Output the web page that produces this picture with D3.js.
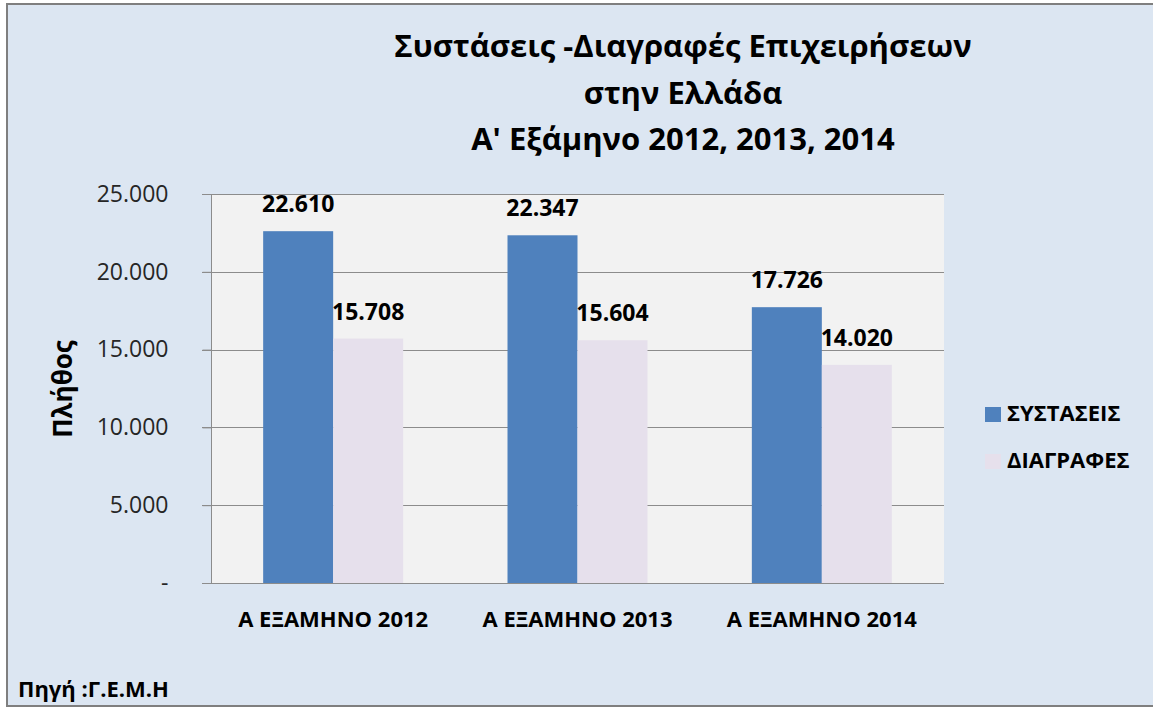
<!DOCTYPE html>
<html>
<head>
<meta charset="utf-8">
<script src="https://cdn.jsdelivr.net/npm/d3@7"></script>
<style>
  html, body { margin: 0; padding: 0; background: #ffffff; }
  svg { display: block; font-family: "Open Sans", "Noto Sans", sans-serif; }
</style>
</head>
<body>
<svg id="chart" width="1153" height="708"></svg>
<script>
const categories = ['Α ΕΞΑΜΗΝΟ 2012', 'Α ΕΞΑΜΗΝΟ 2013', 'Α ΕΞΑΜΗΝΟ 2014'];
const seriesNames = ['ΣΥΣΤΑΣΕΙΣ', 'ΔΙΑΓΡΑΦΕΣ'];
const systaseis = [22610, 22347, 17726];
const diagrafes = [15708, 15604, 14020];
const yTicks = [0, 5000, 10000, 15000, 20000, 25000];
const titleLines = ['Συστάσεις -Διαγραφές Επιχειρήσεων', 'στην Ελλάδα', "Α' Εξάμηνο 2012, 2013, 2014"];

const colors = ['#4f81bd', '#e6e0ec'];
const seriesValues = [systaseis, diagrafes];

const locale = d3.formatLocale({ decimal: ',', thousands: '.', grouping: [3], currency: ['', '€'] });
const fmt = locale.format(',d');
const tickFmt = d => d === 0 ? '-' : fmt(d);

const svg = d3.select('#chart');
const plot = { left: 211, right: 944, top: 194, bottom: 583 };

// background + frame (right edge runs off the picture)
svg.append('rect')
  .attr('x', 7).attr('y', 4).attr('width', 1160).attr('height', 702)
  .attr('fill', '#dce6f2')
  .attr('stroke', '#7f7f7f').attr('stroke-width', 2);

// title
svg.append('g').selectAll('text')
  .data(titleLines)
  .join('text')
  .attr('x', 683)
  .attr('y', (d, i) => 57 + i * 46.5)
  .attr('text-anchor', 'middle')
  .attr('font-size', 31)
  .attr('font-weight', 'bold')
  .attr('fill', '#000')
  .text(d => d);

const x0 = d3.scaleBand()
  .domain(categories)
  .range([plot.left, plot.right])
  .paddingInner(0.427)
  .paddingOuter(0.2135);

const x1 = d3.scaleBand()
  .domain(seriesNames)
  .range([0, x0.bandwidth()]);

const y = d3.scaleLinear()
  .domain([0, 25000])
  .range([plot.bottom, plot.top]);

// plot area
svg.append('rect')
  .attr('x', plot.left).attr('y', plot.top)
  .attr('width', plot.right - plot.left).attr('height', plot.bottom - plot.top)
  .attr('fill', '#f2f2f2');

// gridlines
svg.append('g').selectAll('line')
  .data(yTicks)
  .join('line')
  .attr('x1', plot.left - 9).attr('x2', plot.right)
  .attr('y1', d => Math.round(y(d)) + 0.5).attr('y2', d => Math.round(y(d)) + 0.5)
  .attr('stroke', '#8c8c8c').attr('stroke-width', 1);

// y axis
const yAxis = d3.axisLeft(y)
  .tickValues(yTicks)
  .tickFormat(tickFmt)
  .tickSize(9)
  .tickPadding(34);

const yg = svg.append('g')
  .attr('transform', `translate(${plot.left + 0.5},0)`)
  .call(yAxis);
yg.select('.domain').attr('stroke', '#8c8c8c').attr('d', `M0,${plot.top}V${plot.bottom}`);
yg.selectAll('.tick line').attr('stroke', '#8c8c8c');
yg.selectAll('.tick text')
  .attr('font-size', 23)
  .attr('font-family', '"Open Sans", "Noto Sans", sans-serif')
  .attr('fill', '#262626');

// y axis title
svg.append('text')
  .attr('transform', 'translate(72,389) rotate(-90)')
  .attr('text-anchor', 'middle')
  .attr('font-size', 26)
  .attr('font-weight', 'bold')
  .attr('fill', '#000')
  .text('Πλήθος');

// bars
const groups = svg.append('g').selectAll('g')
  .data(categories)
  .join('g')
  .attr('transform', d => `translate(${x0(d)},0)`);

groups.selectAll('rect')
  .data((c, i) => seriesNames.map((s, j) => ({ s, j, v: seriesValues[j][i] })))
  .join('rect')
  .attr('x', d => x1(d.s))
  .attr('y', d => y(d.v))
  .attr('width', x1.bandwidth())
  .attr('height', d => y(0) - y(d.v))
  .attr('fill', d => colors[d.j]);

groups.selectAll('text')
  .data((c, i) => seriesNames.map((s, j) => ({ s, j, v: seriesValues[j][i] })))
  .join('text')
  .attr('x', d => x1(d.s) + x1.bandwidth() / 2)
  .attr('y', d => y(d.v) - 19)
  .attr('text-anchor', 'middle')
  .attr('font-size', 23)
  .attr('font-weight', 'bold')
  .attr('fill', '#000')
  .text(d => fmt(d.v));

// x axis labels
svg.append('g').selectAll('text')
  .data(categories)
  .join('text')
  .attr('x', d => x0(d) + x0.bandwidth() / 2)
  .attr('y', 627)
  .attr('text-anchor', 'middle')
  .attr('font-size', 22)
  .attr('font-weight', 'bold')
  .attr('fill', '#000')
  .text(d => d);

// legend
const legend = svg.append('g').selectAll('g')
  .data(seriesNames)
  .join('g')
  .attr('transform', (d, i) => `translate(985,${407 + i * 47})`);
legend.append('rect')
  .attr('width', 16).attr('height', 15)
  .attr('fill', (d, i) => colors[i]);
legend.append('text')
  .attr('x', 22).attr('y', 14)
  .attr('font-size', 22)
  .attr('font-weight', 'bold')
  .attr('fill', '#000')
  .text(d => d);

// source
svg.append('text')
  .attr('x', 18).attr('y', 697)
  .attr('font-size', 22)
  .attr('font-weight', 'bold')
  .attr('fill', '#000')
  .text('Πηγή :Γ.Ε.Μ.Η');
</script>
</body>
</html>
